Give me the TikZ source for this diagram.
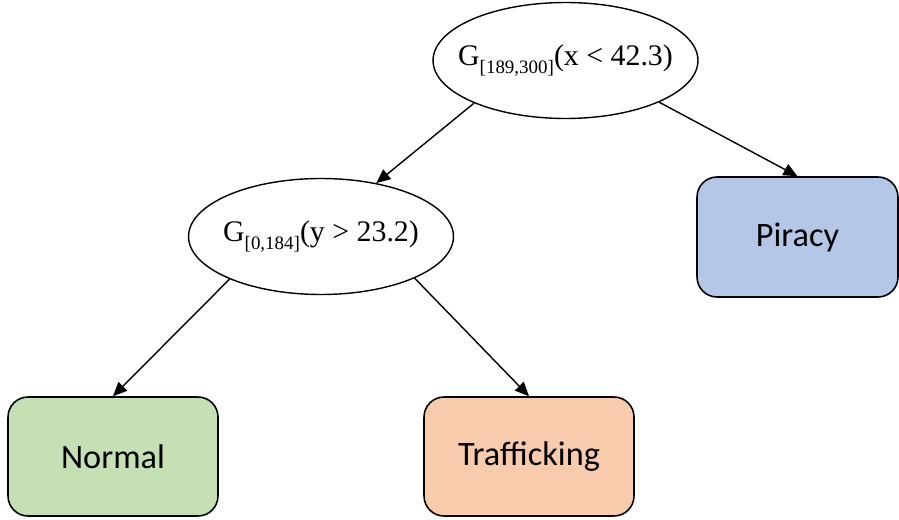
\documentclass[tikz,border=0pt]{standalone}
\usepackage{fontspec}
\setmainfont{Liberation Serif}
\newfontfamily\calfont{Carlito}
\usepackage{xcolor}
\definecolor{NormalGreen}{HTML}{C5E0B4}
\definecolor{TraffOrange}{HTML}{F8CBAD}
\definecolor{PiracyBlue}{HTML}{B4C7E7}
\usetikzlibrary{shapes.geometric, arrows.meta}
\tikzset{
  cond/.style={ellipse, draw, line width=0.8pt, minimum width=5.3cm, minimum height=2.32cm, inner sep=0pt, font=\fontsize{17}{20}\selectfont},
  leafbox/.style={rectangle, rounded corners=0.4cm, draw, line width=0.9pt, minimum width=4.2cm, minimum height=2.38cm, font=\calfont\fontsize{19.5}{22}\selectfont},
  branch/.style={-{Triangle[length=8pt,width=7pt]}, line width=0.8pt}
}
\newcommand{\rng}[1]{\raisebox{-5pt}{\fontsize{10.8}{12}\selectfont[#1]}}

\begin{document}
\begin{tikzpicture}[x=0.02cm,y=-0.02cm]
  \useasboundingbox (0,0) rectangle (899,520);
  % splits
  \node[cond] (root) at (565.5,60.5) {\makebox[0pt]{G\rng{189,300}(x < 42.3)}};
  \node[cond] (lft) at (321,236.5) {\makebox[0pt]{G\rng{0,184}(y > 23.2)}};
  % leaves
  \node[leafbox, fill=PiracyBlue, minimum width=4.02cm, minimum height=2.4cm] (pir) at (797.5,237) {Piracy};
  \node[leafbox, fill=NormalGreen] (nor) at (113,456.5) {Normal};
  \node[leafbox, fill=TraffOrange] (traf) at (529,456.5) {Trafficking};
  % arrows
  \draw[branch] (root.205) -- (lft.44);
  \draw[branch] (root.336) -- (pir.north);
  \draw[branch] (lft.205) -- (nor.north);
  \draw[branch] (lft.336) -- (traf.north);
\end{tikzpicture}
\end{document}
